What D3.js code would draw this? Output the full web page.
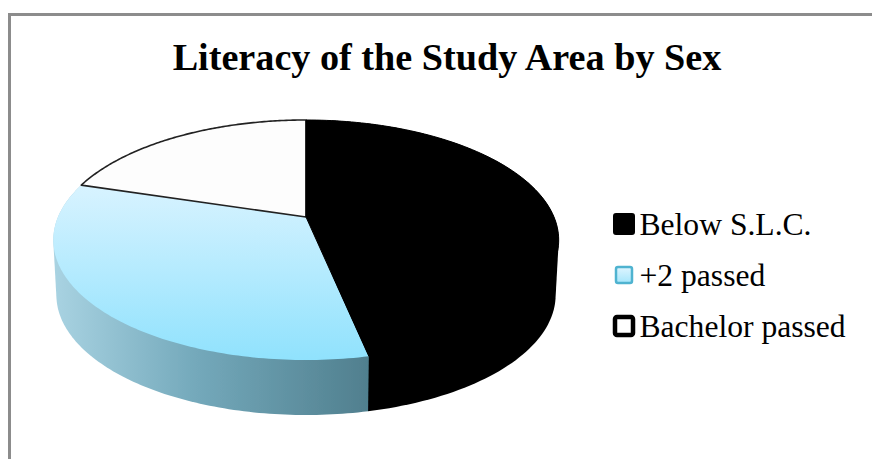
<!DOCTYPE html>
<html><head><meta charset="utf-8">
<script src="https://cdnjs.cloudflare.com/ajax/libs/d3/7.8.5/d3.min.js"></script>
<style>html,body{margin:0;background:#fff}svg{display:block}text{font-family:"Liberation Serif",serif;fill:#000}</style>
</head><body><svg id="c" width="872" height="459"></svg>
<script>
const title = "Literacy of the Study Area by Sex";
const categories = ["Below S.L.C.", "+2 passed", "Bachelor passed"];
const shares = [46.7, 33.0, 20.3];

const svg = d3.select("#c");
const defs = svg.append("defs");
const topGrad = defs.append("linearGradient").attr("id","topBlue").attr("x1",0).attr("y1",0).attr("x2",0).attr("y2",1);
topGrad.append("stop").attr("offset","0%").attr("stop-color","#d8f3ff");
topGrad.append("stop").attr("offset","100%").attr("stop-color","#90e2fd");
const sideGrad = defs.append("linearGradient").attr("id","sideBlue").attr("x1",0).attr("y1",0).attr("x2",1).attr("y2",0);
sideGrad.append("stop").attr("offset","0%").attr("stop-color","#a9d3e2");
sideGrad.append("stop").attr("offset","45%").attr("stop-color","#74a9bb");
sideGrad.append("stop").attr("offset","100%").attr("stop-color","#507f8e");
const leg = defs.append("linearGradient").attr("id","legBlue").attr("x1",0).attr("y1",0).attr("x2",0).attr("y2",1);
leg.append("stop").attr("offset","0%").attr("stop-color","#dff5ff");
leg.append("stop").attr("offset","100%").attr("stop-color","#a6e6fb");
defs.append("filter").attr("id","soft").append("feGaussianBlur").attr("stdDeviation",0.6);

// frame: only the top and left edges are visible in the crop
svg.append("path").attr("d","M9.5 459V14.5H872").attr("fill","none").attr("stroke","#8c8c8c").attr("stroke-width",3);

svg.append("text").attr("x",447).attr("y",70).attr("text-anchor","middle")
  .attr("font-size",38.2).attr("font-weight","bold").text(title);

// perspective projection of a disc onto the page
const tilt = 0.1917;
const project = (a, o) => {
  const u = Math.sin(a), v = -Math.cos(a), d = 1 - tilt * v;
  return [o.x + o.w * u / d, o.y + o.h * v / d];
};
const topDisc = {x:306, y:217, w:248, h:115.6};
const baseDisc = {x:306, y:272, w:245, h:115.6};
const arcPts = (a0, a1, o) => d3.range(0, 121).map(i => project(a0 + (a1 - a0) * i / 120, o));
const line = d3.line();

const slices = d3.pie().sort(null)(shares);
const plot = svg.append("g").attr("filter","url(#soft)");
const wallFill = ["#000", "url(#sideBlue)", "none"];
const topFill = ["#000", "url(#topBlue)", "#fdfdfd"];
const topStroke = ["#000", "none", "#222"];
const topStrokeWidth = [1, 0, 1.6];

slices.forEach((s, i) => {
  if (wallFill[i] === "none") return;
  const hull = d3.polygonHull(arcPts(s.startAngle, s.endAngle, topDisc).concat(arcPts(s.startAngle, s.endAngle, baseDisc)));
  plot.append("path").attr("d", line(hull) + "Z").attr("fill", wallFill[i]);
});
[1, 2, 0].forEach(i => {
  const s = slices[i];
  plot.append("path")
    .attr("d", line([[topDisc.x, topDisc.y]].concat(arcPts(s.startAngle, s.endAngle, topDisc))) + "Z")
    .attr("fill", topFill[i])
    .attr("stroke", topStroke[i])
    .attr("stroke-width", topStrokeWidth[i])
    .attr("stroke-linejoin","round");
});

// legend
const rowY = d3.scalePoint().domain(categories).range([224, 326]);
const rows = svg.append("g").selectAll("g").data(categories).join("g")
  .attr("transform", d => `translate(0,${rowY(d)})`);
rows.append("rect").attr("x",(d,i)=>[614,616,615][i]).attr("y",(d,i)=>[-10,-8,-9][i])
  .attr("width",(d,i)=>[20,16,18][i]).attr("height",(d,i)=>[20,16,18][i]).attr("rx",2)
  .attr("fill",(d,i)=>["#000","url(#legBlue)","#fff"][i])
  .attr("stroke",(d,i)=>["#000","#4fb3d0","#000"][i])
  .attr("stroke-width",(d,i)=>[2,2.5,4.5][i]);
rows.append("text").attr("x",639.5).attr("y",10.5).attr("font-size",31.6).text(d=>d);
</script></body></html>
